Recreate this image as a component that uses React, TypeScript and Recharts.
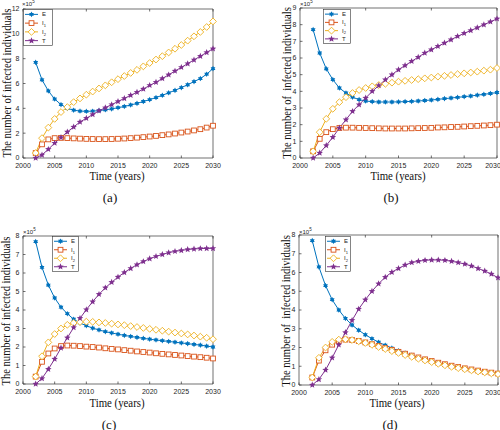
import React from "react";
import { LineChart, Line, XAxis, YAxis, Legend } from "recharts";

const years = [
  2002, 2003, 2004, 2005, 2006, 2007, 2008, 2009, 2010, 2011, 2012, 2013, 2014, 2015, 2016,
  2017, 2018, 2019, 2020, 2021, 2022, 2023, 2024, 2025, 2026, 2027, 2028, 2029, 2030,
];

// panel (a), units of 1e5
const aE = [7.7, 6.3, 5.4, 4.75, 4.3, 4.0, 3.85, 3.78, 3.76, 3.77, 3.82, 3.88, 3.96, 4.05, 4.15, 4.27, 4.4, 4.55, 4.7, 4.87, 5.05, 5.25, 5.45, 5.67, 5.9, 6.15, 6.4, 6.75, 7.2];
const aI1 = [0.4, 1.1, 1.5, 1.6, 1.62, 1.6, 1.58, 1.56, 1.54, 1.53, 1.52, 1.52, 1.53, 1.55, 1.57, 1.6, 1.64, 1.68, 1.73, 1.78, 1.84, 1.9, 1.97, 2.05, 2.13, 2.22, 2.32, 2.45, 2.6];
const aI2 = [0.4, 1.6, 2.45, 3.15, 3.7, 4.1, 4.5, 4.8, 5.1, 5.35, 5.6, 5.85, 6.1, 6.35, 6.6, 6.85, 7.1, 7.38, 7.65, 7.93, 8.2, 8.5, 8.8, 9.1, 9.45, 9.8, 10.15, 10.55, 11.0];
const aT = [0, 0.25, 0.7, 1.2, 1.65, 2.1, 2.5, 2.9, 3.2, 3.5, 3.8, 4.05, 4.3, 4.55, 4.8, 5.05, 5.3, 5.55, 5.85, 6.1, 6.4, 6.7, 7.0, 7.3, 7.6, 7.9, 8.2, 8.5, 8.8];

// panel (b)
const bE = [7.7, 6.3, 5.35, 4.7, 4.2, 3.9, 3.65, 3.5, 3.42, 3.38, 3.36, 3.36, 3.36, 3.37, 3.38, 3.4, 3.42, 3.45, 3.48, 3.52, 3.56, 3.6, 3.64, 3.68, 3.72, 3.77, 3.82, 3.87, 3.93];
const bI1 = [0.4, 1.15, 1.55, 1.73, 1.8, 1.82, 1.82, 1.81, 1.8, 1.79, 1.78, 1.77, 1.77, 1.77, 1.77, 1.78, 1.79, 1.8, 1.81, 1.83, 1.84, 1.86, 1.87, 1.89, 1.91, 1.93, 1.95, 1.97, 2.0];
const bI2 = [0.4, 1.55, 2.35, 2.95, 3.35, 3.65, 3.9, 4.08, 4.2, 4.3, 4.38, 4.45, 4.52, 4.58, 4.63, 4.68, 4.73, 4.78, 4.83, 4.88, 4.93, 4.98, 5.03, 5.08, 5.13, 5.18, 5.24, 5.3, 5.4];
const bT = [0, 0.3, 0.75, 1.25, 1.8, 2.3, 2.8, 3.2, 3.6, 4.0, 4.35, 4.7, 5.0, 5.3, 5.55, 5.8, 6.05, 6.3, 6.5, 6.7, 6.9, 7.1, 7.3, 7.48, 7.65, 7.82, 8.0, 8.17, 8.35];

// panel (c)
const cE = [7.7, 6.3, 5.35, 4.65, 4.15, 3.8, 3.5, 3.3, 3.15, 3.02, 2.92, 2.83, 2.76, 2.69, 2.63, 2.57, 2.52, 2.47, 2.42, 2.38, 2.34, 2.3, 2.26, 2.22, 2.18, 2.14, 2.1, 2.05, 2.0];
const cI1 = [0.4, 1.2, 1.65, 1.92, 2.05, 2.08, 2.07, 2.05, 2.02, 2.0, 1.97, 1.93, 1.9, 1.87, 1.83, 1.8, 1.76, 1.73, 1.7, 1.66, 1.63, 1.6, 1.57, 1.54, 1.51, 1.48, 1.45, 1.42, 1.38];
const cI2 = [0.4, 1.5, 2.25, 2.7, 3.0, 3.2, 3.3, 3.35, 3.37, 3.36, 3.33, 3.3, 3.26, 3.22, 3.18, 3.13, 3.08, 3.03, 2.98, 2.93, 2.88, 2.83, 2.78, 2.73, 2.68, 2.62, 2.56, 2.5, 2.42];
const cT = [0, 0.3, 0.8, 1.35, 1.95, 2.5, 3.05, 3.55, 4.02, 4.45, 4.85, 5.2, 5.5, 5.78, 6.03, 6.25, 6.45, 6.62, 6.77, 6.9, 7.0, 7.1, 7.17, 7.22, 7.27, 7.3, 7.32, 7.33, 7.33];

// panel (d)
const dE = [7.7, 6.3, 5.3, 4.55, 4.0, 3.55, 3.2, 2.92, 2.68, 2.47, 2.28, 2.12, 1.97, 1.83, 1.7, 1.58, 1.47, 1.36, 1.27, 1.18, 1.09, 1.01, 0.94, 0.87, 0.81, 0.75, 0.7, 0.65, 0.6];
const dI1 = [0.4, 1.3, 1.85, 2.15, 2.35, 2.42, 2.4, 2.35, 2.27, 2.18, 2.08, 1.97, 1.87, 1.77, 1.67, 1.57, 1.47, 1.37, 1.28, 1.19, 1.11, 1.03, 0.96, 0.89, 0.83, 0.77, 0.71, 0.66, 0.61];
const dI2 = [0.4, 1.45, 2.0, 2.3, 2.42, 2.44, 2.4, 2.33, 2.24, 2.14, 2.03, 1.92, 1.81, 1.71, 1.6, 1.5, 1.4, 1.31, 1.22, 1.13, 1.05, 0.97, 0.9, 0.84, 0.78, 0.72, 0.67, 0.62, 0.58];
const dT = [0, 0.3, 0.8, 1.45, 2.15, 2.8, 3.45, 4.05, 4.55, 5.0, 5.4, 5.75, 6.02, 6.22, 6.4, 6.53, 6.6, 6.65, 6.67, 6.67, 6.65, 6.6, 6.53, 6.45, 6.35, 6.22, 6.08, 5.92, 5.72];

const xTicks = [2000, 2005, 2010, 2015, 2020, 2025, 2030];
const yTicksA = [0, 2, 4, 6, 8, 10, 12];
const yTicksB = [0, 1, 2, 3, 4, 5, 6, 7, 8, 9];
const yTicksCD = [0, 1, 2, 3, 4, 5, 6, 7, 8];

const SERIES = [
  { key: "E", color: "#0072BD", shape: "hex", sub: "" },
  { key: "I1", color: "#D95319", shape: "square", sub: "1" },
  { key: "I2", color: "#EDB120", shape: "diamond", sub: "2" },
  { key: "T", color: "#7E2F8E", shape: "pent", sub: "" },
];

const AXIS = "#333";
const SANS = "'Liberation Sans', Arial, sans-serif";
const SERIF = "'Liberation Serif', 'Times New Roman', serif";
const AX_W = 20; // room for y tick labels
const AX_H = 20; // room for x tick labels

function toRows(e: number[], i1: number[], i2: number[], t: number[]) {
  return years.map((year, i) => ({ year, E: e[i], I1: i1[i], I2: i2[i], T: t[i] }));
}

function starPath(cx: number, cy: number, n: number, ro: number, ri: number) {
  let d = "";
  for (let i = 0; i < 2 * n; i++) {
    const r = i % 2 ? ri : ro;
    const a = -Math.PI / 2 + (i * Math.PI) / n;
    d += (i ? "L" : "M") + (cx + r * Math.cos(a)).toFixed(2) + "," + (cy + r * Math.sin(a)).toFixed(2);
  }
  return d + "Z";
}

function Marker({ shape, cx, cy, color }: any) {
  if (cx == null || cy == null) return null;
  if (shape === "hex") return <path d={starPath(cx, cy, 6, 2.8, 1.6)} fill={color} />;
  if (shape === "pent") return <path d={starPath(cx, cy, 5, 3.4, 1.5)} fill={color} />;
  if (shape === "square")
    return <rect x={cx - 2.4} y={cy - 2.4} width={4.8} height={4.8} fill="#fff" stroke={color} strokeWidth={0.9} />;
  return (
    <path
      d={`M${cx},${cy - 3.4}L${cx + 3.4},${cy}L${cx},${cy + 3.4}L${cx - 3.4},${cy}Z`}
      fill="#fff"
      stroke={color}
      strokeWidth={0.9}
    />
  );
}

function LegendBox({ w, h }: { w: number; h: number }) {
  const step = (h - 2) / 4;
  return (
    <svg width={w} height={h} style={{ display: "block" }}>
      <rect x={0.5} y={0.5} width={w - 1} height={h - 1} fill="#fff" stroke={AXIS} strokeWidth={0.6} />
      {SERIES.map((s, i) => {
        const y = 1 + step * (i + 0.5);
        return (
          <g key={s.key}>
            <line x1={2} x2={15} y1={y} y2={y} stroke={s.color} strokeWidth={1} />
            <Marker shape={s.shape} cx={8.5} cy={y} color={s.color} />
            <text x={19} y={y + 2} fontSize={6} fontFamily={SANS} fill="#222">
              {s.key[0]}
              {s.sub && (
                <tspan dy={1.8} fontSize={4}>
                  {s.sub}
                </tspan>
              )}
            </text>
          </g>
        );
      })}
    </svg>
  );
}

// plot = pixel gaps between the 250x215 cell and the plot frame
function Panel({ left, top, plot, yMax, yTicks, rows, legend }: any) {
  const hiddenTick = () => <g />;
  const margin = {
    left: plot.left - AX_W,
    right: plot.right - 1,
    top: plot.top - 1,
    bottom: plot.bottom - AX_H,
  };
  return (
    <div style={{ position: "absolute", left, top }}>
      <LineChart width={250} height={215} data={rows} margin={margin}>
        <XAxis
          dataKey="year"
          type="number"
          domain={[2000, 2030]}
          ticks={xTicks}
          height={AX_H}
          stroke={AXIS}
          strokeWidth={0.7}
          tickSize={-2.5}
          tickMargin={8}
          tick={{ fontSize: 7, fontFamily: SANS, fill: "#262626" }}
        />
        <XAxis
          xAxisId="top"
          orientation="top"
          dataKey="year"
          type="number"
          domain={[2000, 2030]}
          ticks={xTicks}
          height={1}
          stroke={AXIS}
          strokeWidth={0.7}
          tickSize={-2.5}
          tick={hiddenTick}
        />
        <YAxis
          type="number"
          domain={[0, yMax]}
          ticks={yTicks}
          width={AX_W}
          stroke={AXIS}
          strokeWidth={0.7}
          tickSize={-2.5}
          tickMargin={6}
          tick={{ fontSize: 7, fontFamily: SANS, fill: "#262626" }}
        />
        <YAxis
          yAxisId="right"
          orientation="right"
          type="number"
          domain={[0, yMax]}
          ticks={yTicks}
          width={1}
          stroke={AXIS}
          strokeWidth={0.7}
          tickSize={-2.5}
          tick={hiddenTick}
        />
        <Legend
          layout="vertical"
          align="center"
          verticalAlign="middle"
          wrapperStyle={{ left: legend.x, top: legend.y, width: legend.w, height: legend.h }}
          content={() => <LegendBox w={legend.w} h={legend.h} />}
        />
        {SERIES.map((s) => (
          <Line
            key={s.key}
            dataKey={s.key}
            stroke={s.color}
            strokeWidth={1}
            isAnimationActive={false}
            type="linear"
            dot={(p: any) => <Marker key={`${s.key}-${p.index}`} shape={s.shape} cx={p.cx} cy={p.cy} color={s.color} />}
            activeDot={false}
          />
        ))}
      </LineChart>
    </div>
  );
}

function Txt({ x, y, size, rot, family, children, squeeze = 1 }: any) {
  const tf = `translate(-50%, -50%)${rot ? " rotate(-90deg)" : ""} scaleX(${squeeze})`;
  return (
    <div
      style={{
        position: "absolute",
        left: x,
        top: y,
        transform: tf,
        fontFamily: family,
        fontSize: size,
        lineHeight: 1,
        whiteSpace: "pre",
        color: "#111",
      }}
    >
      {children}
    </div>
  );
}

function Exp({ x, y }: { x: number; y: number }) {
  return (
    <div style={{ position: "absolute", left: x, top: y, fontFamily: SANS, fontSize: 6, lineHeight: 1, color: "#262626" }}>
      ×10<sup style={{ fontSize: 4.5 }}>5</sup>
    </div>
  );
}

export default function App() {
  const rowsA = toRows(aE, aI1, aI2, aT);
  const rowsB = toRows(bE, bI1, bI2, bT);
  const rowsC = toRows(cE, cI1, cI2, cT);
  const rowsD = toRows(dE, dI1, dI2, dT);
  const yTitle1 = "The number of infected individuals";
  const yTitle2 = "The number of  infected individuals";
  return (
    <div style={{ position: "fixed", left: 0, top: 0, width: 500, height: 430, background: "#fff", overflow: "hidden" }}>
      <Panel left={0} top={0} plot={{ left: 23, top: 9, right: 37, bottom: 57 }} yMax={12} yTicks={yTicksA} rows={rowsA} legend={{ x: 23, y: 9, w: 30, h: 37 }} />
      <Panel left={250} top={0} plot={{ left: 50, top: 8, right: 3, bottom: 57 }} yMax={9} yTicks={yTicksB} rows={rowsB} legend={{ x: 73, y: 9, w: 28, h: 35 }} />
      <Panel left={0} top={215} plot={{ left: 23, top: 21, right: 37, bottom: 46 }} yMax={8} yTicks={yTicksCD} rows={rowsC} legend={{ x: 52, y: 21, w: 27, h: 36 }} />
      <Panel left={250} top={215} plot={{ left: 49, top: 20, right: 2, bottom: 45 }} yMax={8} yTicks={yTicksCD} rows={rowsD} legend={{ x: 75, y: 21, w: 26, h: 36 }} />

      <Exp x={22} y={0} />
      <Exp x={300} y={0} />
      <Exp x={23} y={228} />
      <Exp x={299} y={228} />

      <Txt x={7} y={83} size={12} rot family={SERIF} squeeze={0.88}>{yTitle1}</Txt>
      <Txt x={287} y={83} size={12} rot family={SERIF} squeeze={0.88}>{yTitle2}</Txt>
      <Txt x={6} y={311} size={12} rot family={SERIF} squeeze={0.88}>{yTitle1}</Txt>
      <Txt x={286} y={311} size={12} rot family={SERIF} squeeze={0.88}>{yTitle2}</Txt>

      <Txt x={117} y={176} size={12} family={SERIF} squeeze={0.9}>Time (years)</Txt>
      <Txt x={398} y={176} size={12} family={SERIF} squeeze={0.9}>Time (years)</Txt>
      <Txt x={117} y={403} size={12} family={SERIF} squeeze={0.9}>Time (years)</Txt>
      <Txt x={397} y={403} size={12} family={SERIF} squeeze={0.9}>Time (years)</Txt>

      <Txt x={110} y={197} size={13} family={SERIF}>(a)</Txt>
      <Txt x={391} y={197} size={13} family={SERIF}>(b)</Txt>
      <Txt x={109} y={424} size={13} family={SERIF}>(c)</Txt>
      <Txt x={390} y={424} size={13} family={SERIF}>(d)</Txt>
    </div>
  );
}
